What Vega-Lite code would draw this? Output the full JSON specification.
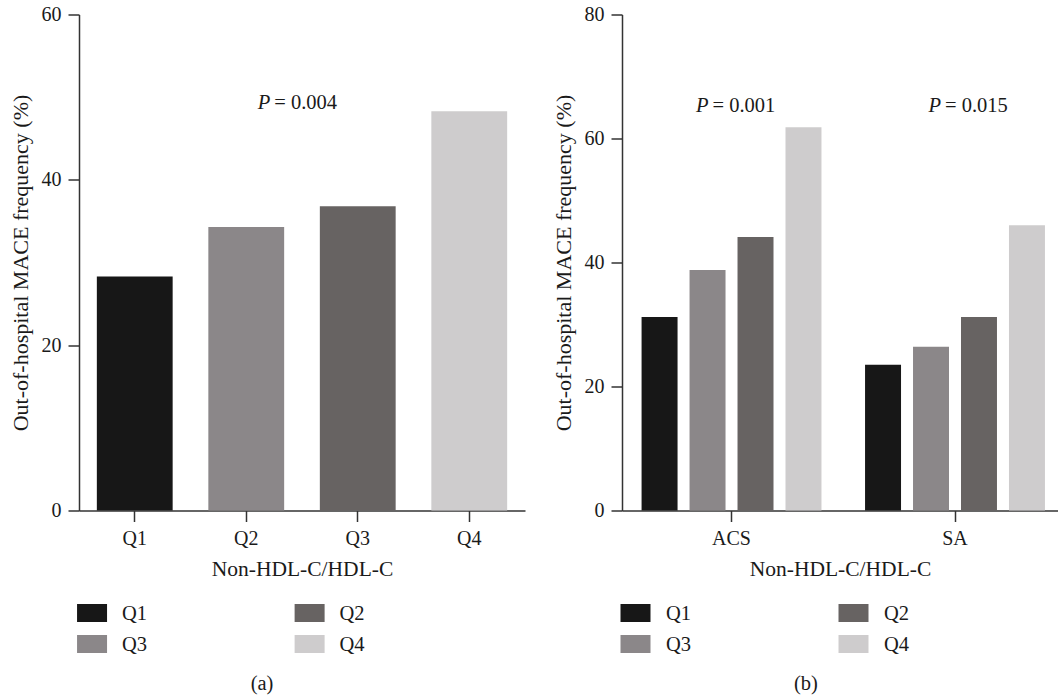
{
  "$schema": "https://vega.github.io/schema/vega-lite/v6.json",
  "background": "white",
  "padding": {"left": 9, "top": 4.5, "right": 0, "bottom": 0},
  "datasets": {
    "a": [
      {"q": "Q1", "v": 28.3},
      {"q": "Q2", "v": 34.3},
      {"q": "Q3", "v": 36.8},
      {"q": "Q4", "v": 48.3}
    ],
    "b": [
      {"g": "ACS", "q": "Q1", "v": 31.2},
      {"g": "ACS", "q": "Q2", "v": 38.8},
      {"g": "ACS", "q": "Q3", "v": 44.1},
      {"g": "ACS", "q": "Q4", "v": 61.8},
      {"g": "SA", "q": "Q1", "v": 23.5},
      {"g": "SA", "q": "Q2", "v": 26.4},
      {"g": "SA", "q": "Q3", "v": 31.2},
      {"g": "SA", "q": "Q4", "v": 46.0}
    ],
    "legend": [
      {"q": "Q1", "col": 0, "row": 0},
      {"q": "Q2", "col": 1, "row": 0},
      {"q": "Q3", "col": 0, "row": 1},
      {"q": "Q4", "col": 1, "row": 1}
    ]
  },
  "columns": 2,
  "bounds": "flush",
  "spacing": {"row": 87, "column": 97},
  "resolve": {"scale": {"color": "independent", "x": "independent", "y": "independent"}},
  "concat": [
    {
      "width": 446,
      "height": 496,
      "encoding": {
        "x": {"field": "q", "type": "nominal", "sort": null,
          "scale": {"paddingInner": 0.32, "paddingOuter": 0.16},
          "axis": {"title": "Non-HDL-C/HDL-C", "labelAngle": 0, "labelPadding": 6.5, "titlePadding": 10}},
        "y": {"field": "v", "type": "quantitative",
          "scale": {"domain": [0, 60], "nice": false},
          "axis": {"title": "Out-of-hospital MACE frequency (%)", "titleFontSize": 22, "values": [0, 20, 40, 60], "labelPadding": 7, "titlePadding": 9}}
      },
      "layer": [
        {
          "data": {"name": "a"},
          "mark": {"type": "bar"},
          "encoding": {
            "color": {"field": "q", "type": "nominal",
              "scale": {"domain": ["Q1", "Q2", "Q3", "Q4"], "range": ["#171717", "#8b8789", "#676362", "#cecccd"]},
              "legend": null}
          }
        },
        {
          "data": {"values": [{"q": "Q2", "v": 48.6, "t": "P"}]},
          "mark": {"type": "text", "align": "right", "baseline": "alphabetic", "dx": 24, "font": "Liberation Serif", "fontSize": 20.5, "fontStyle": "italic", "color": "#1a1a1a"},
          "encoding": {"text": {"field": "t"}}
        },
        {
          "data": {"values": [{"q": "Q2", "v": 48.6, "t": "= 0.004"}]},
          "mark": {"type": "text", "align": "left", "baseline": "alphabetic", "dx": 28, "font": "Liberation Serif", "fontSize": 20.5, "color": "#1a1a1a"},
          "encoding": {"text": {"field": "t"}}
        }
      ]
    },
    {
      "width": 436,
      "height": 496,
      "encoding": {
        "x": {"field": "g", "type": "nominal", "sort": null,
          "scale": {"paddingInner": 0.195, "paddingOuter": 0.073, "align": 0.6},
          "axis": {"title": "Non-HDL-C/HDL-C", "labelAngle": 0, "labelPadding": 6.5, "titlePadding": 10}},
        "y": {"field": "v", "type": "quantitative",
          "scale": {"domain": [0, 80], "nice": false},
          "axis": {"title": "Out-of-hospital MACE frequency (%)", "titleFontSize": 22, "values": [0, 20, 40, 60, 80], "labelPadding": 7, "titlePadding": 9}}
      },
      "layer": [
        {
          "data": {"name": "b"},
          "mark": {"type": "bar"},
          "encoding": {
            "xOffset": {"field": "q", "type": "nominal", "sort": null, "scale": {"paddingInner": 0.25, "paddingOuter": 0}},
            "color": {"field": "q", "type": "nominal",
              "scale": {"domain": ["Q1", "Q2", "Q3", "Q4"], "range": ["#171717", "#8b8789", "#676362", "#cecccd"]},
              "legend": null}
          }
        },
        {
          "data": {"values": [{"g": "ACS", "v": 64.3, "t": "P"}]},
          "mark": {"type": "text", "align": "right", "baseline": "alphabetic", "dx": -23, "font": "Liberation Serif", "fontSize": 20.5, "fontStyle": "italic", "color": "#1a1a1a"},
          "encoding": {"text": {"field": "t"}}
        },
        {
          "data": {"values": [{"g": "ACS", "v": 64.3, "t": "= 0.001"}]},
          "mark": {"type": "text", "align": "left", "baseline": "alphabetic", "dx": -19, "font": "Liberation Serif", "fontSize": 20.5, "color": "#1a1a1a"},
          "encoding": {"text": {"field": "t"}}
        },
        {
          "data": {"values": [{"g": "SA", "v": 64.3, "t": "P"}]},
          "mark": {"type": "text", "align": "right", "baseline": "alphabetic", "dx": -14, "font": "Liberation Serif", "fontSize": 20.5, "fontStyle": "italic", "color": "#1a1a1a"},
          "encoding": {"text": {"field": "t"}}
        },
        {
          "data": {"values": [{"g": "SA", "v": 64.3, "t": "= 0.015"}]},
          "mark": {"type": "text", "align": "left", "baseline": "alphabetic", "dx": -10, "font": "Liberation Serif", "fontSize": 20.5, "color": "#1a1a1a"},
          "encoding": {"text": {"field": "t"}}
        }
      ]
    },
    {
      "width": 446,
      "height": 62,
      "data": {"name": "legend"},
      "title": {"text": "(a)", "orient": "bottom", "frame": "group", "anchor": "middle", "dx": -40, "offset": 14, "baseline": "top", "font": "Liberation Serif", "fontSize": 20.5, "fontWeight": "normal", "color": "#1a1a1a"},
      "encoding": {
        "x": {"field": "col", "type": "quantitative", "scale": {"domain": [0, 2.05], "nice": false, "zero": false}, "axis": null},
        "y": {"field": "row", "type": "quantitative", "scale": {"domain": [-0.5, 1.5], "nice": false, "zero": false, "reverse": true}, "axis": null}
      },
      "layer": [
        {
          "mark": {"type": "point", "shape": "M-0.13,-0.6H1.87V0.6H-0.13Z", "size": 900, "filled": true, "opacity": 1, "strokeWidth": 0},
          "encoding": {
            "color": {"field": "q", "type": "nominal",
              "scale": {"domain": ["Q1", "Q2", "Q3", "Q4"], "range": ["#171717", "#676362", "#8b8789", "#cecccd"]},
              "legend": null}
          }
        },
        {
          "mark": {"type": "text", "align": "left", "baseline": "middle", "dx": 43, "dy": 1, "font": "Liberation Serif", "fontSize": 20.5, "color": "#1a1a1a"},
          "encoding": {"text": {"field": "q"}}
        }
      ]
    },
    {
      "width": 436,
      "height": 62,
      "data": {"name": "legend"},
      "title": {"text": "(b)", "orient": "bottom", "frame": "group", "anchor": "middle", "dx": -34, "offset": 14, "baseline": "top", "font": "Liberation Serif", "fontSize": 20.5, "fontWeight": "normal", "color": "#1a1a1a"},
      "encoding": {
        "x": {"field": "col", "type": "quantitative", "scale": {"domain": [0, 2], "nice": false, "zero": false}, "axis": null},
        "y": {"field": "row", "type": "quantitative", "scale": {"domain": [-0.5, 1.5], "nice": false, "zero": false, "reverse": true}, "axis": null}
      },
      "layer": [
        {
          "mark": {"type": "point", "shape": "M-0.1,-0.6H1.9V0.6H-0.1Z", "size": 900, "filled": true, "opacity": 1, "strokeWidth": 0},
          "encoding": {
            "color": {"field": "q", "type": "nominal",
              "scale": {"domain": ["Q1", "Q2", "Q3", "Q4"], "range": ["#171717", "#676362", "#8b8789", "#cecccd"]},
              "legend": null}
          }
        },
        {
          "mark": {"type": "text", "align": "left", "baseline": "middle", "dx": 44, "dy": 1, "font": "Liberation Serif", "fontSize": 20.5, "color": "#1a1a1a"},
          "encoding": {"text": {"field": "q"}}
        }
      ]
    }
  ],
  "config": {
    "view": {"stroke": null},
    "axis": {
      "grid": false,
      "domainColor": "#333333",
      "domainWidth": 1.5,
      "tickColor": "#333333",
      "tickWidth": 1.5,
      "tickSize": 11,
      "labelFont": "Liberation Serif",
      "labelFontSize": 20,
      "labelColor": "#1a1a1a",
      "titleFont": "Liberation Serif",
      "titleFontSize": 21.5,
      "titleFontWeight": "normal",
      "titleColor": "#1a1a1a"
    }
  }
}
